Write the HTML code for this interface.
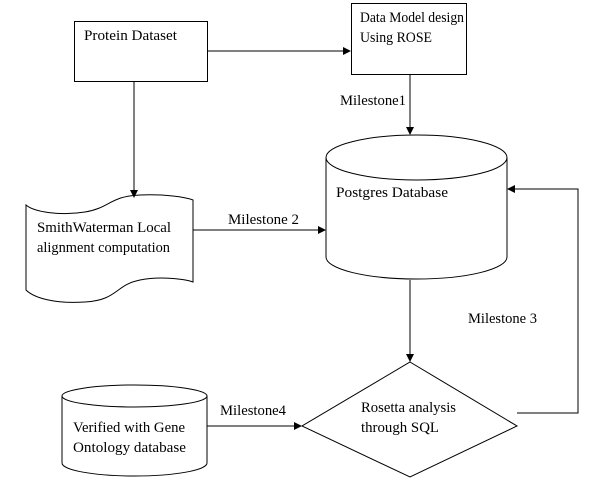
<!DOCTYPE html>
<html><head><meta charset="utf-8"><style>
html,body{margin:0;padding:0;background:#fff;}
svg{display:block;}
</style></head><body>
<svg width="616" height="490" viewBox="0 0 616 490" xmlns="http://www.w3.org/2000/svg">
<defs><marker id="a" markerWidth="8" markerHeight="8" refX="7" refY="4" orient="auto" markerUnits="userSpaceOnUse"><path d="M0,0 L8,4 L0,8 z" fill="#000"/></marker></defs>
<g fill="none" stroke="#000" stroke-width="1">
<rect x="74.5" y="21.5" width="133" height="60"/>
<rect x="351.5" y="3.5" width="115" height="71"/>
<line x1="207" y1="51" x2="350" y2="51" marker-end="url(#a)"/>
<line x1="134" y1="81" x2="134" y2="197" marker-end="url(#a)"/>
<line x1="410" y1="74" x2="410" y2="134" marker-end="url(#a)"/>
<path d="M26,205 C34,212 60,216 85,212 C110,208 110,196 140,195 C165,194 185,197 193,200 L193,282 C185,279 160,276 140,280 C115,285 118,300 85,302 C55,304 34,298 26,290 Z"/>
<line x1="193" y1="230" x2="325" y2="230" marker-end="url(#a)"/>
<path d="M326,158 L326,257 A90.5,22 0 0 0 507,257 L507,158"/>
<ellipse cx="416.5" cy="157.5" rx="90.5" ry="22.5"/>
<line x1="410" y1="280" x2="410" y2="361" marker-end="url(#a)"/>
<polygon points="410,362 517,426 410,477 302,426"/>
<polyline points="517,413 578,413 578,189 508,189" marker-end="url(#a)"/>
<path d="M62,396 L62,463 A72.5,13 0 0 0 207,463 L207,396"/>
<ellipse cx="134.5" cy="396" rx="72.5" ry="11"/>
<line x1="207" y1="426" x2="301" y2="426" marker-end="url(#a)"/>
</g>
<g font-family="'Liberation Serif', 'Times New Roman', 'DejaVu Serif', serif" font-size="14.5" fill="#000" lengthAdjust="spacingAndGlyphs">
<text x="84" y="40" textLength="93" lengthAdjust="spacingAndGlyphs">Protein Dataset</text>
<text x="360" y="22" textLength="104" lengthAdjust="spacingAndGlyphs">Data Model design</text>
<text x="360" y="42" textLength="72" lengthAdjust="spacingAndGlyphs">Using ROSE</text>
<text x="340" y="105" textLength="66" lengthAdjust="spacingAndGlyphs">Milestone1</text>
<text x="336" y="197" textLength="112" lengthAdjust="spacingAndGlyphs">Postgres Database</text>
<text x="228" y="224" textLength="71" lengthAdjust="spacingAndGlyphs">Milestone 2</text>
<text x="37" y="232" textLength="134" lengthAdjust="spacingAndGlyphs">SmithWaterman Local</text>
<text x="37" y="252" textLength="133" lengthAdjust="spacingAndGlyphs">alignment computation</text>
<text x="468" y="323" textLength="69" lengthAdjust="spacingAndGlyphs">Milestone 3</text>
<text x="361" y="412" textLength="95" lengthAdjust="spacingAndGlyphs">Rosetta analysis</text>
<text x="361" y="432" textLength="78" lengthAdjust="spacingAndGlyphs">through SQL</text>
<text x="220" y="415" textLength="66" lengthAdjust="spacingAndGlyphs">Milestone4</text>
<text x="73" y="432" textLength="112" lengthAdjust="spacingAndGlyphs">Verified with Gene</text>
<text x="73" y="452" textLength="113" lengthAdjust="spacingAndGlyphs">Ontology database</text>
</g>
</svg>
</body></html>
